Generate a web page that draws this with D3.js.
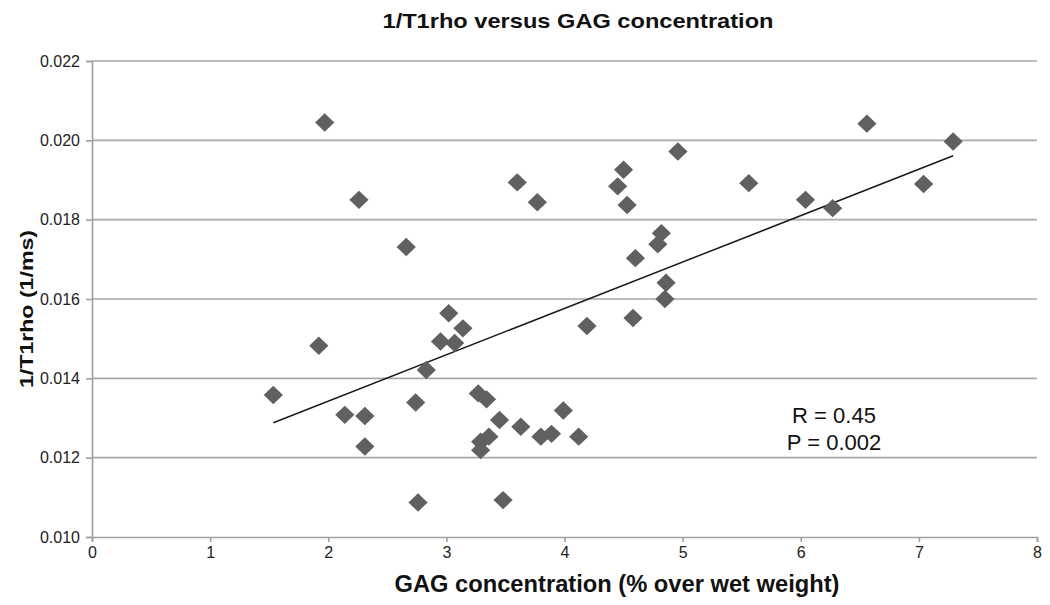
<!DOCTYPE html>
<html>
<head>
<meta charset="utf-8">
<script src="https://cdn.jsdelivr.net/npm/d3@7"></script>
<style>
  html, body { margin: 0; padding: 0; background: #fff; }
  svg { display: block; font-family: "Liberation Sans", Arial, Helvetica, sans-serif; }
</style>
</head>
<body>
<svg id="chart" width="1050" height="605"></svg>
<script>
// ---- data ----
const gagValues = [1.535, 1.92, 1.97, 2.14, 2.26, 2.31, 2.31, 2.66, 2.74, 2.76,
  2.83, 2.95, 3.02, 3.07, 3.14, 3.27, 3.34, 3.29, 3.29, 3.36,
  3.45, 3.48, 3.60, 3.63, 3.77, 3.80, 3.89, 3.99, 4.12, 4.19,
  4.45, 4.50, 4.53, 4.58, 4.60, 4.79, 4.82, 4.86, 4.85, 4.96,
  5.56, 6.04, 6.27, 6.56, 7.04, 7.29];
const t1rhoValues = [0.01358, 0.01482, 0.02045, 0.01308, 0.01850, 0.01305, 0.01228, 0.01731, 0.01339, 0.01087,
  0.01421, 0.01493, 0.01564, 0.01489, 0.01526, 0.01362, 0.01347, 0.01240, 0.01219, 0.01253,
  0.01295, 0.01093, 0.01894, 0.01278, 0.01844, 0.01253, 0.01260, 0.01319, 0.01253, 0.01532,
  0.01884, 0.01926, 0.01837, 0.01552, 0.01703, 0.01738, 0.01766, 0.01641, 0.01600, 0.01972,
  0.01892, 0.01850, 0.01829, 0.02042, 0.01890, 0.01997];
const trendX = [1.535, 7.29];
const trendY = [0.01288, 0.01961];
const xTicks = [0, 1, 2, 3, 4, 5, 6, 7, 8];
const yTicks = [0.010, 0.012, 0.014, 0.016, 0.018, 0.020, 0.022];
const titleText = "1/T1rho versus GAG concentration";
const xLabelText = "GAG concentration (% over wet weight)";
const yLabelText = "1/T1rho (1/ms)";
const annotations = ["R = 0.45", "P = 0.002"];

// ---- drawing ----
const svg = d3.select("#chart");
const x = d3.scaleLinear().domain([0, 8]).range([92, 1037]);
const y = d3.scaleLinear().domain([0.010, 0.022]).range([537, 61]);

// gridlines
svg.append("g").selectAll("line").data(yTicks.slice(1)).join("line")
  .attr("x1", x(0)).attr("x2", x(8))
  .attr("y1", d => y(d)).attr("y2", d => y(d))
  .attr("stroke", "#a9a9a9").attr("stroke-width", 1.6);

// y axis
const yAxis = svg.append("g").attr("transform", `translate(${x(0)},0)`)
  .call(d3.axisLeft(y).tickValues(yTicks).tickFormat(d3.format(".3f")).tickSize(6).tickPadding(6));
yAxis.select(".domain").attr("stroke", "#a0a0a0").attr("stroke-width", 1.6);
yAxis.selectAll(".tick line").attr("stroke", "#a0a0a0").attr("stroke-width", 1.6);
yAxis.selectAll("text").attr("font-size", 16).attr("fill", "#222")
  .attr("font-family", "'Liberation Sans', Arial, sans-serif");

// x axis
const xAxis = svg.append("g").attr("transform", `translate(0,${y(0.010)})`)
  .call(d3.axisBottom(x).tickValues(xTicks).tickFormat(d3.format("d")).tickSize(5).tickPadding(5));
xAxis.select(".domain").attr("stroke", "#a0a0a0").attr("stroke-width", 1.6);
xAxis.selectAll(".tick line").attr("stroke", "#a0a0a0").attr("stroke-width", 1.6);
xAxis.selectAll("text").attr("font-size", 16).attr("fill", "#222")
  .attr("font-family", "'Liberation Sans', Arial, sans-serif");

// trend line
svg.append("path")
  .datum(trendX.map((d, i) => [d, trendY[i]]))
  .attr("d", d3.line().x(d => x(d[0])).y(d => y(d[1])))
  .attr("fill", "none").attr("stroke", "#1a1a1a").attr("stroke-width", 1.5);

// points (diamonds)
const pts = gagValues.map((d, i) => ({ gx: d, ty: t1rhoValues[i] }));
svg.append("g").selectAll("path").data(pts).join("path")
  .attr("transform", d => `translate(${x(d.gx)},${y(d.ty)})`)
  .attr("d", "M0,-9.2L9.6,0L0,9.2L-9.6,0Z")
  .attr("fill", "#606060");

// title
svg.append("text")
  .attr("x", 578).attr("y", 28).attr("text-anchor", "middle")
  .attr("font-weight", "bold").attr("font-size", 21).attr("fill", "#111")
  .attr("textLength", 391).attr("lengthAdjust", "spacingAndGlyphs")
  .text(titleText);

// x label
svg.append("text")
  .attr("x", 617).attr("y", 592).attr("text-anchor", "middle")
  .attr("font-weight", "bold").attr("font-size", 23).attr("fill", "#111")
  .attr("textLength", 445).attr("lengthAdjust", "spacingAndGlyphs")
  .text(xLabelText);

// y label
svg.append("text")
  .attr("transform", "translate(33,309) rotate(-90)")
  .attr("text-anchor", "middle")
  .attr("font-weight", "bold").attr("font-size", 19).attr("fill", "#111")
  .attr("textLength", 158).attr("lengthAdjust", "spacingAndGlyphs")
  .text(yLabelText);

// annotations
svg.append("g").selectAll("text").data(annotations).join("text")
  .attr("x", 834).attr("y", (d, i) => 423 + i * 27)
  .attr("text-anchor", "middle").attr("font-size", 22).attr("fill", "#111")
  .text(d => d);
</script>
</body>
</html>
